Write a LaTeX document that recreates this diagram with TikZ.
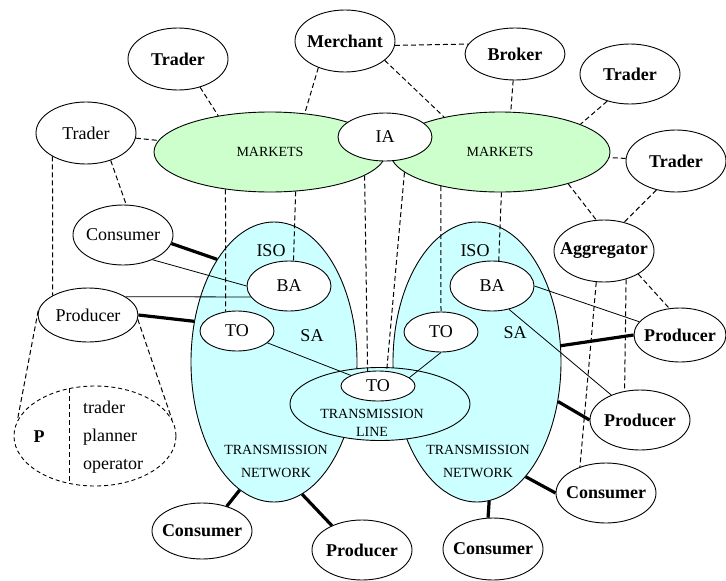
\documentclass[tikz,border=0pt]{standalone}
\usepackage{fontspec}
\setmainfont{Liberation Serif}
\usepackage{tikz}
\usetikzlibrary{shapes.geometric}
\definecolor{mktgreen}{RGB}{204,255,204}
\definecolor{netcyan}{RGB}{204,255,255}
\tikzstyle{actor} = [ellipse,
draw=black,
fill=white,
line width=0.9pt,
inner xsep=-15pt,
inner ysep=0pt,
minimum width=100pt,
minimum height=60pt,
font=\fontsize{18}{20}\selectfont]
\tikzstyle{bactor} = [actor, font=\fontsize{18}{20}\selectfont\bfseries]
\tikzstyle{unit} = [actor, minimum width=74pt, minimum height=40pt]
\tikzstyle{market} = [ellipse,
draw=black,
fill=mktgreen,
line width=0.9pt,
inner sep=0pt,
font=\fontsize{14}{16}\selectfont]
\tikzstyle{area} = [ellipse, draw=black, fill=netcyan, line width=0.9pt, inner sep=0pt]
\tikzstyle{tag} = [inner sep=0pt, font=\fontsize{18}{20}\selectfont]
\tikzstyle{small} = [inner sep=0pt, align=center, font=\fontsize{14}{23}\selectfont]
\tikzstyle{link} = [line width=1pt, dash pattern=on 5pt off 3pt]
\tikzstyle{wire} = [line width=0.8pt]
\tikzstyle{feed} = [line width=3.2pt]

\begin{document}
\begin{tikzpicture}[x=1pt,y=-1pt]
    \useasboundingbox (0,0) rectangle (726,581);
    \node (mkL) [market, minimum width=232pt, minimum height=80pt] at (270,152) {MARKETS};
    \node (mkR) [market, minimum width=220pt, minimum height=80pt] at (500,152) {MARKETS};
    \node (ia) [actor, minimum width=94pt, minimum height=48pt] at (385,137) {IA};

    \node (saL) [area, minimum width=166pt, minimum height=280pt] at (274,362) {};
    \node (saR) [area, minimum width=168pt, minimum height=280pt] at (477,362) {};
    \node (line) [area, minimum width=180pt, minimum height=73pt] at (380,404) {};

    \node (isoL) [tag] at (271,251) {ISO};
    \node (isoR) [tag] at (475,251) {ISO};
    \node (saLtag) [tag] at (312,336) {SA};
    \node (saRtag) [tag] at (515,333) {SA};
    \node (netL) [small] at (276,461) {TRANSMISSION\\NETWORK};
    \node (netR) [small] at (478,461) {TRANSMISSION\\NETWORK};
    \node (lineTag) [small, font=\fontsize{14}{18}\selectfont] at (372,423) {TRANSMISSION\\LINE};

    \node (baL) [unit, minimum width=84pt, minimum height=50pt] at (289,286) {BA};
    \node (toL) [unit] at (237,331) {TO};
    \node (baR) [unit, minimum width=84pt, minimum height=50pt] at (492,286) {BA};
    \node (toR) [unit] at (441,332) {TO};
    \node (toC) [unit, minimum height=30pt] at (378,386) {TO};

    \node (trT) [bactor, minimum height=62pt] at (178,59) {Trader};
    \node (me) [bactor, minimum height=62pt] at (345,41) {Merchant};
    \node (br) [bactor, minimum height=52pt] at (515,54) {Broker};
    \node (trTR) [bactor] at (630,74) {Trader};
    \node (trR) [bactor, minimum height=62pt] at (676,161) {Trader};
    \node (trL) [actor, minimum height=62pt] at (86,133) {Trader};
    \node (coL) [actor] at (123,235) {Consumer};
    \node (prL) [actor, minimum height=54pt] at (88,315) {Producer};
    \node (ag) [bactor, minimum height=62pt] at (604,251) {Aggregator};
    \node (prTR) [bactor, minimum width=92pt, minimum height=54pt] at (680,335) {Producer};
    \node (prMR) [bactor] at (640,420) {Producer};
    \node (coR) [bactor] at (606,493) {Consumer};
    \node (coB) [bactor, minimum height=62pt] at (493,549) {Consumer};
    \node (prB) [bactor] at (362,550) {Producer};
    \node (coBL) [bactor, minimum height=56pt] at (202,531) {Consumer};

    \node (role) [ellipse, draw=black, line width=0.9pt, dash pattern=on 4pt off 3pt, minimum width=162pt, minimum height=100pt] at (95,436) {};
    \node (pTag) [tag, font=\fontsize{18}{20}\selectfont\bfseries] at (39,437) {P};
    \node (roles) [tag, anchor=west, align=left, font=\fontsize{18}{28}\selectfont] at (83,437) {trader\\planner\\operator};

    \draw [link] (role.118) -- (role.242);
    \draw [link] (prL.175) -- (role.169);
    \draw [link] (prL.355) -- (role.12);
    \draw [link] (trL.215) -- (prL.151);
    \draw [link] (trL.312) -- (coL.84);
    \draw [link] (trL) -- (mkL);
    \draw [link] (trT.308) -- (mkL.145);
    \draw [link] (me.225) -- (mkL.48);
    \draw [link] (me.-5) -- (br.168);
    \draw [link] (me.334) -- (mkR.148);
    \draw [link] (br.266) -- (mkR.75);
    \draw [link] (trTR.230) -- (mkR.19);
    \draw [link] (trR) -- (mkR);
    \draw [link] (mkR.335) -- (ag.104);
    \draw [link] (trR.236) -- (ag.55);
    \draw [link] (ag.256) -- (coR.135);
    \draw [link] (ag.308) -- (prMR.118);
    \draw [link] (ag.326) -- (prTR.112);
    \draw [link] (mkL.220) -- (toL.120);
    \draw [link] (mkL.303) -- (baL.80);
    \draw [link] (mkL.346) -- (toC.125);
    \draw [link] (mkR.192) -- (toC.60);
    \draw [link] (mkR.210) -- (toR.north);
    \draw [link] (mkR.272) -- (baR.75);

    \draw [wire] (coL.320) -- (baL.west);
    \draw [wire] (prL.26) -- (baL.196);
    \draw [wire] (toL) -- (toC);
    \draw [wire] (toR.south) -- (toC.15);
    \draw [wire] (baR.east) -- (prTR.162);
    \draw [wire] (baR.306) -- (prMR.139);

    \draw [feed] (coL.350) -- (saL.119);
    \draw [feed] (prL.east) -- (saL.153);
    \draw [feed] (coBL.45) -- (saL.255);
    \draw [feed] (prB.141) -- (saL.282);
    \draw [feed] (coB.99) -- (saR.275);
    \draw [feed] (coR.west) -- (saR.293);
    \draw [feed] (prMR.west) -- (saR.334);
    \draw [feed] (prTR.west) -- (saR.11);
\end{tikzpicture}
\end{document}
